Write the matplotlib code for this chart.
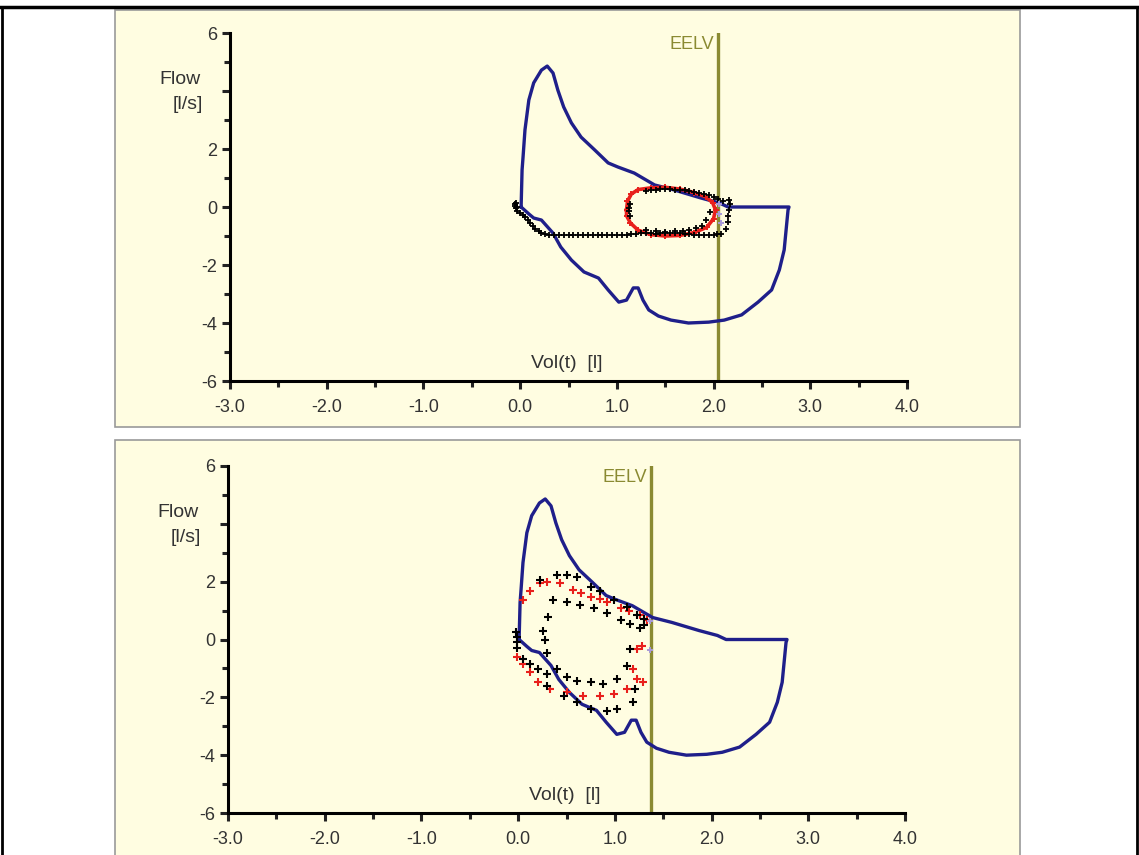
import matplotlib
matplotlib.use('Agg')
import matplotlib.pyplot as plt
from matplotlib.patches import Rectangle
from matplotlib.lines import Line2D
from matplotlib.ticker import MultipleLocator, FixedLocator, FuncFormatter

plt.rcParams['font.family'] = ['Liberation Sans', 'DejaVu Sans']

# maximal flow-volume envelope (same loop in both panels)
env_vol = [0.01, 0.02, 0.03, 0.05, 0.09, 0.14, 0.22, 0.28, 0.34, 0.39, 0.45, 0.53,
           0.63, 0.77, 0.91, 1.01, 1.18, 1.39, 1.59, 1.87, 2.06, 2.15, 2.78, 2.77,
           2.75, 2.73, 2.68, 2.60, 2.46, 2.29, 2.11, 1.95, 1.74, 1.56, 1.43, 1.33,
           1.27, 1.22, 1.17, 1.10, 1.02, 0.91, 0.81, 0.66, 0.53, 0.42, 0.34, 0.22,
           0.14, 0.09, 0.01]
env_flow = [0.0, 1.28, 1.72, 2.66, 3.69, 4.28, 4.72, 4.86, 4.62, 4.03, 3.45, 2.90,
            2.41, 1.97, 1.52, 1.38, 1.17, 0.76, 0.59, 0.31, 0.14, 0.0, 0.0, -0.10,
            -0.79, -1.48, -2.17, -2.86, -3.28, -3.72, -3.90, -3.97, -4.00, -3.90, -3.76, -3.55,
            -3.21, -2.79, -2.79, -3.21, -3.28, -2.86, -2.45, -2.24, -1.83, -1.38, -0.90, -0.45,
            -0.38, -0.24, 0.0]

# top panel: tidal loops
eelv_top = 2.05
top_red_vol = [1.10, 1.11, 1.15, 1.22, 1.35, 1.50, 1.65, 1.80, 1.92, 1.99, 2.02, 2.00,
               1.93, 1.80, 1.65, 1.50, 1.35, 1.22, 1.14, 1.10, 1.10]
top_red_flow = [-0.10, 0.20, 0.45, 0.60, 0.66, 0.68, 0.62, 0.50, 0.35, 0.15, -0.10, -0.40,
                -0.70, -0.88, -0.98, -1.00, -0.95, -0.80, -0.55, -0.30, -0.10]
top_black_vol = [-0.04, -0.05, -0.04, -0.03, -0.05, -0.03, 0.00, 0.03, 0.05, 0.08, 0.10,
                 0.13, 0.15, 0.19, 0.22, 0.26, 0.30,
                 0.35, 0.40, 0.45, 0.50, 0.55, 0.60, 0.65, 0.70, 0.75, 0.80, 0.85, 0.90,
                 0.95, 1.00, 1.05, 1.10, 1.15, 1.20, 1.25, 1.30, 1.35, 1.40, 1.45, 1.50,
                 1.55, 1.60, 1.65, 1.70, 1.75, 1.80, 1.85, 1.90, 1.95, 2.00, 2.04, 2.08,
                 2.13, 2.15, 2.15, 2.16, 2.17, 2.16,
                 2.10, 2.05, 2.00, 1.95, 1.90, 1.85, 1.80, 1.75, 1.70, 1.65, 1.60, 1.55,
                 1.50, 1.45, 1.40, 1.35, 1.30,
                 1.14, 1.13, 1.13, 1.14, 1.30, 1.40, 1.50, 1.60, 1.68, 1.75, 1.82, 1.88,
                 1.92, 1.96]
top_black_flow = [0.15, 0.05, -0.05, -0.15, 0.10, 0.0, -0.22, -0.28, -0.35, -0.45, -0.55,
                  -0.65, -0.75, -0.82, -0.88, -0.92, -0.95,
                  -0.97, -0.97, -0.98, -0.98, -0.97, -0.96, -0.97, -0.98, -0.97, -0.97, -0.96, -0.96,
                  -0.97, -0.97, -0.96, -0.95, -0.94, -0.93, -0.91, -0.90, -0.91, -0.92, -0.91, -0.90,
                  -0.89, -0.88, -0.90, -0.93, -0.94, -0.95, -0.96, -0.97, -0.96, -0.95, -0.94, -0.92,
                  -0.75, -0.50, -0.30, -0.10, 0.10, 0.25,
                  0.22, 0.28, 0.35, 0.40, 0.45, 0.49, 0.52, 0.55, 0.58, 0.59, 0.60, 0.61,
                  0.62, 0.61, 0.60, 0.58, 0.55,
                  0.10, -0.02, -0.15, -0.30, -0.80, -0.84, -0.85, -0.83, -0.82, -0.80, -0.74, -0.66,
                  -0.45, -0.17]
top_lav_vol = [2.06, 2.06, 2.08]
top_lav_flow = [0.12, -0.25, -0.55]

# bottom panel: tidal loops
eelv_bottom = 1.37
bot_red_vol = [0.05, 0.12, 0.23, 0.30, 0.43, 0.57, 0.75, 0.92, 1.06, 1.26, 1.33,
               -0.01, 0.05, 0.12, 0.21, 0.33, 0.50, 0.67, 0.85, 0.99, 1.13, 1.23,
               1.29, 1.19, 1.23, 1.28, 0.65, 0.85, 1.15]
bot_red_flow = [1.38, 1.66, 1.97, 2.00, 1.97, 1.72, 1.48, 1.28, 1.10, 0.86, 0.69,
                -0.59, -0.86, -1.14, -1.48, -1.72, -1.83, -1.97, -1.97, -1.90, -1.72, -1.38,
                -1.48, -1.03, -0.34, -0.24, 1.62, 1.40, 1.00]
bot_black_vol = [0.23, 0.40, 0.50, 0.61, 0.75, 0.85, 0.99, 1.13, 1.23,
                 0.36, 0.50, 0.64, 0.78, 0.92, 1.06, 1.16, 1.26,
                 0.31, 0.26, 0.28, 0.30,
                 0.40, 0.50, 0.61, 0.75, 0.88, 1.02, 1.13, 1.16,
                 0.30, 0.47, 0.61, 0.75, 0.92, 1.02, 1.19, 1.21,
                 -0.01, -0.01, -0.01, -0.02, 0.05, 0.12, 0.21, 0.30, 1.30, 1.30]
bot_black_flow = [2.07, 2.24, 2.24, 2.17, 1.83, 1.66, 1.38, 1.14, 0.86,
                  1.38, 1.28, 1.21, 1.10, 0.93, 0.69, 0.52, 0.41,
                  0.79, 0.28, 0.00, -0.45,
                  -1.03, -1.28, -1.45, -1.48, -1.55, -1.38, -0.93, -0.34,
                  -1.62, -1.97, -2.17, -2.41, -2.48, -2.41, -2.17, -1.72,
                  0.10, -0.10, -0.30, 0.25, -0.69, -0.86, -1.03, -1.20, 0.70, 0.50]
bot_lav_vol = [1.36, 1.36]
bot_lav_flow = [0.65, -0.35]

x_ticks = [-3, -2, -1, 0, 1, 2, 3, 4]
y_ticks = [-6, -4, -2, 0, 2, 4, 6]

W, H = 1139, 855
fig = plt.figure(figsize=(W / 100, H / 100), dpi=100)
fig.patch.set_facecolor('white')

navy = '#1f1f8a'
olive = '#8a8a32'
panel_col = '#fffde1'
txt_col = '#333333'

# panel backgrounds (pixel boxes -> figure fraction)
for (x0, y0, x1, y1) in [(115, 10, 1020, 427), (115, 440, 1020, 870)]:
    fig.add_artist(Rectangle((x0 / W, 1 - y1 / H), (x1 - x0) / W, (y1 - y0) / H,
                             facecolor=panel_col, edgecolor='#9a9a9a', lw=1.2,
                             transform=fig.transFigure, zorder=0))

# outer frame
fig.add_artist(Line2D([0, 1], [1 - 7 / H, 1 - 7 / H], color='black', lw=2.5, transform=fig.transFigure))
fig.add_artist(Line2D([2 / W, 2 / W], [0, 1 - 7 / H], color='black', lw=2, transform=fig.transFigure))
fig.add_artist(Line2D([1137 / W, 1137 / W], [0, 1 - 7 / H], color='black', lw=2, transform=fig.transFigure))


def draw_panel(ax, eelv, red_v, red_f, blk_v, blk_f, lav_v, lav_f, red_line):
    ax.set_facecolor('none')
    ax.set_xlim(-3, 4)
    ax.set_ylim(-6, 6)
    for s in ['top', 'right']:
        ax.spines[s].set_visible(False)
    for s in ['left', 'bottom']:
        ax.spines[s].set_linewidth(2.2)
    ax.xaxis.set_major_locator(FixedLocator(x_ticks))
    ax.xaxis.set_minor_locator(MultipleLocator(0.5))
    ax.xaxis.set_major_formatter(FuncFormatter(lambda v, p: '%.1f' % v))
    ax.yaxis.set_major_locator(FixedLocator(y_ticks))
    ax.yaxis.set_minor_locator(MultipleLocator(1))
    ax.yaxis.set_major_formatter(FuncFormatter(lambda v, p: '' if v == 4 else '%d' % v))
    ax.tick_params(which='major', length=6, width=2.2, labelsize=13, colors='#222222',
                   labelcolor=txt_col, pad=3)
    ax.tick_params(which='minor', length=4, width=2.2, colors='#222222')
    ax.tick_params(axis='x', which='major', pad=7)

    ax.plot(env_vol, env_flow, color=navy, lw=2.4, zorder=3)
    if red_line:
        # dense tidal loop: drawn as a thick dotted band
        ax.plot(red_v, red_f, color='#e8201c', lw=2.6, marker='+', ms=5, mew=1.4, zorder=4)
        ax.plot(blk_v, blk_f, ls='none', color='black', marker='+', ms=4.5, mew=1.3, zorder=5)
    else:
        ax.plot(red_v, red_f, ls='none', color='#e8201c', marker='+', ms=5.5, mew=1.5, zorder=4)
        ax.plot(blk_v, blk_f, ls='none', color='black', marker='+', ms=5.5, mew=1.5, zorder=5)
    ax.plot(lav_v, lav_f, ls='none', color='#a89ad8', marker='+', ms=5, mew=1.4, zorder=5)
    ax.axvline(eelv, ymin=0, ymax=1, color=olive, lw=2.4, zorder=2)
    ax.text(eelv - 0.04, 5.6, 'EELV', color=olive, fontsize=13, ha='right', va='center')
    ax.text(0.11, -5.38, 'Vol(t)  [l]', color=txt_col, fontsize=14, ha='left', va='center')
    ax.text(-3.30, 4.38, 'Flow', color=txt_col, fontsize=14, ha='right', va='center')
    ax.text(-3.28, 3.52, '[l/s]', color=txt_col, fontsize=14, ha='right', va='center')


ax1 = fig.add_axes([230 / W, 1 - 381 / H, 677 / W, 348 / H])
draw_panel(ax1, eelv_top, top_red_vol, top_red_flow, top_black_vol, top_black_flow,
           top_lav_vol, top_lav_flow, True)

ax2 = fig.add_axes([228 / W, 1 - 813 / H, 677 / W, 347 / H])
draw_panel(ax2, eelv_bottom, bot_red_vol, bot_red_flow, bot_black_vol, bot_black_flow,
           bot_lav_vol, bot_lav_flow, False)

fig.savefig('out.png', dpi=100)
